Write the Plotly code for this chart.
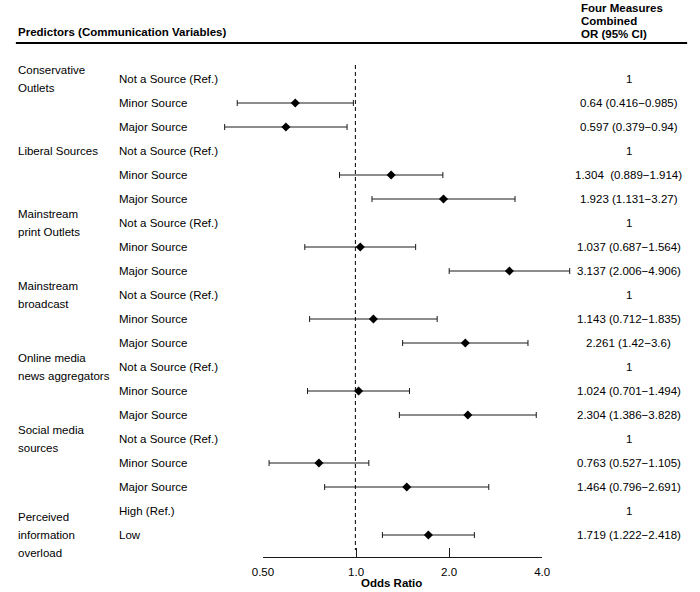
import math
import plotly.graph_objects as go

# ---------------- data ----------------
group_lines = [
    ["Conservative", "Outlets"],
    ["Liberal Sources"],
    ["Mainstream", "print Outlets"],
    ["Mainstream", "broadcast"],
    ["Online media", "news aggregators"],
    ["Social media", "sources"],
    ["Perceived", "information", "overload"],
]
group_first_row = [0, 3, 6, 9, 12, 15, 18]

levels = (["Not a Source (Ref.)", "Minor Source", "Major Source"] * 6
          + ["High (Ref.)", "Low"])

odds_ratio = [1, 0.64, 0.597, 1, 1.304, 1.923, 1, 1.037, 3.137, 1, 1.143, 2.261,
              1, 1.024, 2.304, 1, 0.763, 1.464, 1, 1.719]
ci_lower = [None, 0.416, 0.379, None, 0.889, 1.131, None, 0.687, 2.006, None, 0.712, 1.42,
            None, 0.701, 1.386, None, 0.527, 0.796, None, 1.222]
ci_upper = [None, 0.985, 0.94, None, 1.914, 3.27, None, 1.564, 4.906, None, 1.835, 3.6,
            None, 1.494, 3.828, None, 1.105, 2.691, None, 2.418]
or_text = ["1", "0.64 (0.416\u22120.985)", "0.597 (0.379\u22120.94)",
           "1", "1.304\u00a0 (0.889\u22121.914)", "1.923 (1.131\u22123.27)",
           "1", "1.037 (0.687\u22121.564)", "3.137 (2.006\u22124.906)",
           "1", "1.143 (0.712\u22121.835)", "2.261 (1.42\u22123.6)",
           "1", "1.024 (0.701\u22121.494)", "2.304 (1.386\u22123.828)",
           "1", "0.763 (0.527\u22121.105)", "1.464 (0.796\u22122.691)",
           "1", "1.719 (1.222\u22122.418)"]

tick_vals = [0.5, 1, 2, 4]
tick_text = ["0.50", "1.0", "2.0", "4.0"]

left_header = "Predictors (Communication Variables)"
right_header = ["Four Measures", "Combined", "OR (95% CI)"]
x_title = "Odds Ratio"

# ---------------- layout geometry ----------------
W, H = 700, 592
ROW0_PX, ROW_PX = 79, 24
FONT = "Liberation Sans, Arial, sans-serif"
FS = 11.5
INK = "#1a1a1a"

X1_PX = 354                  # x of OR = 1
px_per_log10 = (450 - 354) / math.log10(2)
x_lo = -X1_PX / px_per_log10
x_hi = (W - X1_PX) / px_per_log10


def fx(p):
    return p / W


def fy(p):
    return 1 - p / H


def row_of_px(p):
    return (p - ROW0_PX) / ROW_PX


rows = list(range(len(levels)))

fig = go.Figure()

# points with CI
px_, py_, ep, em = [], [], [], []
for r, o, lo, hi in zip(rows, odds_ratio, ci_lower, ci_upper):
    if lo is None:
        continue
    px_.append(o)
    py_.append(r)
    ep.append(hi - o)
    em.append(o - lo)

fig.add_trace(go.Scatter(
    x=px_, y=py_, mode="markers",
    marker=dict(symbol="diamond", size=7, color="black"),
    error_x=dict(type="data", symmetric=False, array=ep, arrayminus=em,
                 color=INK, thickness=1, width=3),
    showlegend=False, hoverinfo="skip",
))

# dummy trace to anchor the visible axis
fig.add_trace(go.Scatter(x=[tick_vals[0], tick_vals[-1]], y=[None, None],
                         xaxis="x2", yaxis="y", mode="markers",
                         marker=dict(opacity=0), showlegend=False,
                         hoverinfo="skip"))

# reference line at OR = 1
fig.add_shape(type="line", xref="x", yref="y", x0=1, x1=1,
              y0=row_of_px(65), y1=row_of_px(550),
              line=dict(color="black", width=1, dash="4px,3px"))

# header rule
fig.add_shape(type="line", xref="paper", yref="paper",
              x0=fx(5), x1=fx(695), y0=fy(43), y1=fy(43),
              line=dict(color="black", width=2))

ann = []
# left header
ann.append(dict(text="<b>%s</b>" % left_header, xref="paper", yref="paper",
                x=fx(5), y=fy(32), xanchor="left", yanchor="middle",
                showarrow=False, font=dict(size=FS, color="black", family=FONT)))
# right header
for k, t in enumerate(right_header):
    ann.append(dict(text="<b>%s</b>" % t, xref="paper", yref="paper",
                    x=fx(584), y=fy(8 + 13 * k), xanchor="left",
                    yanchor="middle", showarrow=False,
                    font=dict(size=FS, color="black", family=FONT)))

# group labels
for lines, r0 in zip(group_lines, group_first_row):
    n = len(lines)
    center = r0 if n <= 2 else r0 + 1
    for k, t in enumerate(lines):
        y = center + (k - (n - 1) / 2) * 0.76
        ann.append(dict(text=t, xref="paper", yref="y", x=fx(5), y=y,
                        xanchor="left", yanchor="middle", showarrow=False,
                        font=dict(size=FS, color="black", family=FONT)))

# level labels and OR text
for r, lv, ot in zip(rows, levels, or_text):
    ann.append(dict(text=lv, xref="paper", yref="y", x=fx(109), y=r,
                    xanchor="left", yanchor="middle", showarrow=False,
                    font=dict(size=FS, color="black", family=FONT)))
    ann.append(dict(text=ot, xref="paper", yref="y", x=fx(635), y=r,
                    xanchor="center", yanchor="middle", showarrow=False,
                    font=dict(size=FS, color="black", family=FONT)))

# x axis title
ann.append(dict(text="<b>%s</b>" % x_title, xref="paper", yref="paper",
                x=fx(391), y=fy(583), xanchor="center", yanchor="middle",
                showarrow=False, font=dict(size=FS, color="black", family=FONT)))

fig.update_layout(
    width=W, height=H,
    margin=dict(l=0, r=0, t=0, b=0),
    paper_bgcolor="white", plot_bgcolor="rgba(0,0,0,0)",
    font=dict(family=FONT, size=FS, color="black"),
    xaxis=dict(type="log", range=[x_lo, x_hi], domain=[0, 1],
               visible=False, fixedrange=True),
    xaxis2=dict(type="log", range=[math.log10(tick_vals[0]), math.log10(tick_vals[-1])],
                domain=[fx(259), fx(546)], anchor="free", position=fy(557),
                showline=True, linecolor=INK, linewidth=1,
                ticks="inside", ticklen=9, tickwidth=1, tickcolor=INK,
                tickvals=tick_vals, ticktext=tick_text,
                ticklabelstandoff=4,
                tickfont=dict(size=FS, color="black", family=FONT),
                showgrid=False, zeroline=False, fixedrange=True),
    yaxis=dict(range=[row_of_px(H), row_of_px(0)], visible=False,
               domain=[0, 1], fixedrange=True),
    annotations=ann,
    showlegend=False,
    hovermode=False,
)

fig.write_html("out.html",
               config={"displayModeBar": False, "staticPlot": True},
               post_script="document.body.style.margin='0';"
                           "document.body.style.overflow='hidden';")
